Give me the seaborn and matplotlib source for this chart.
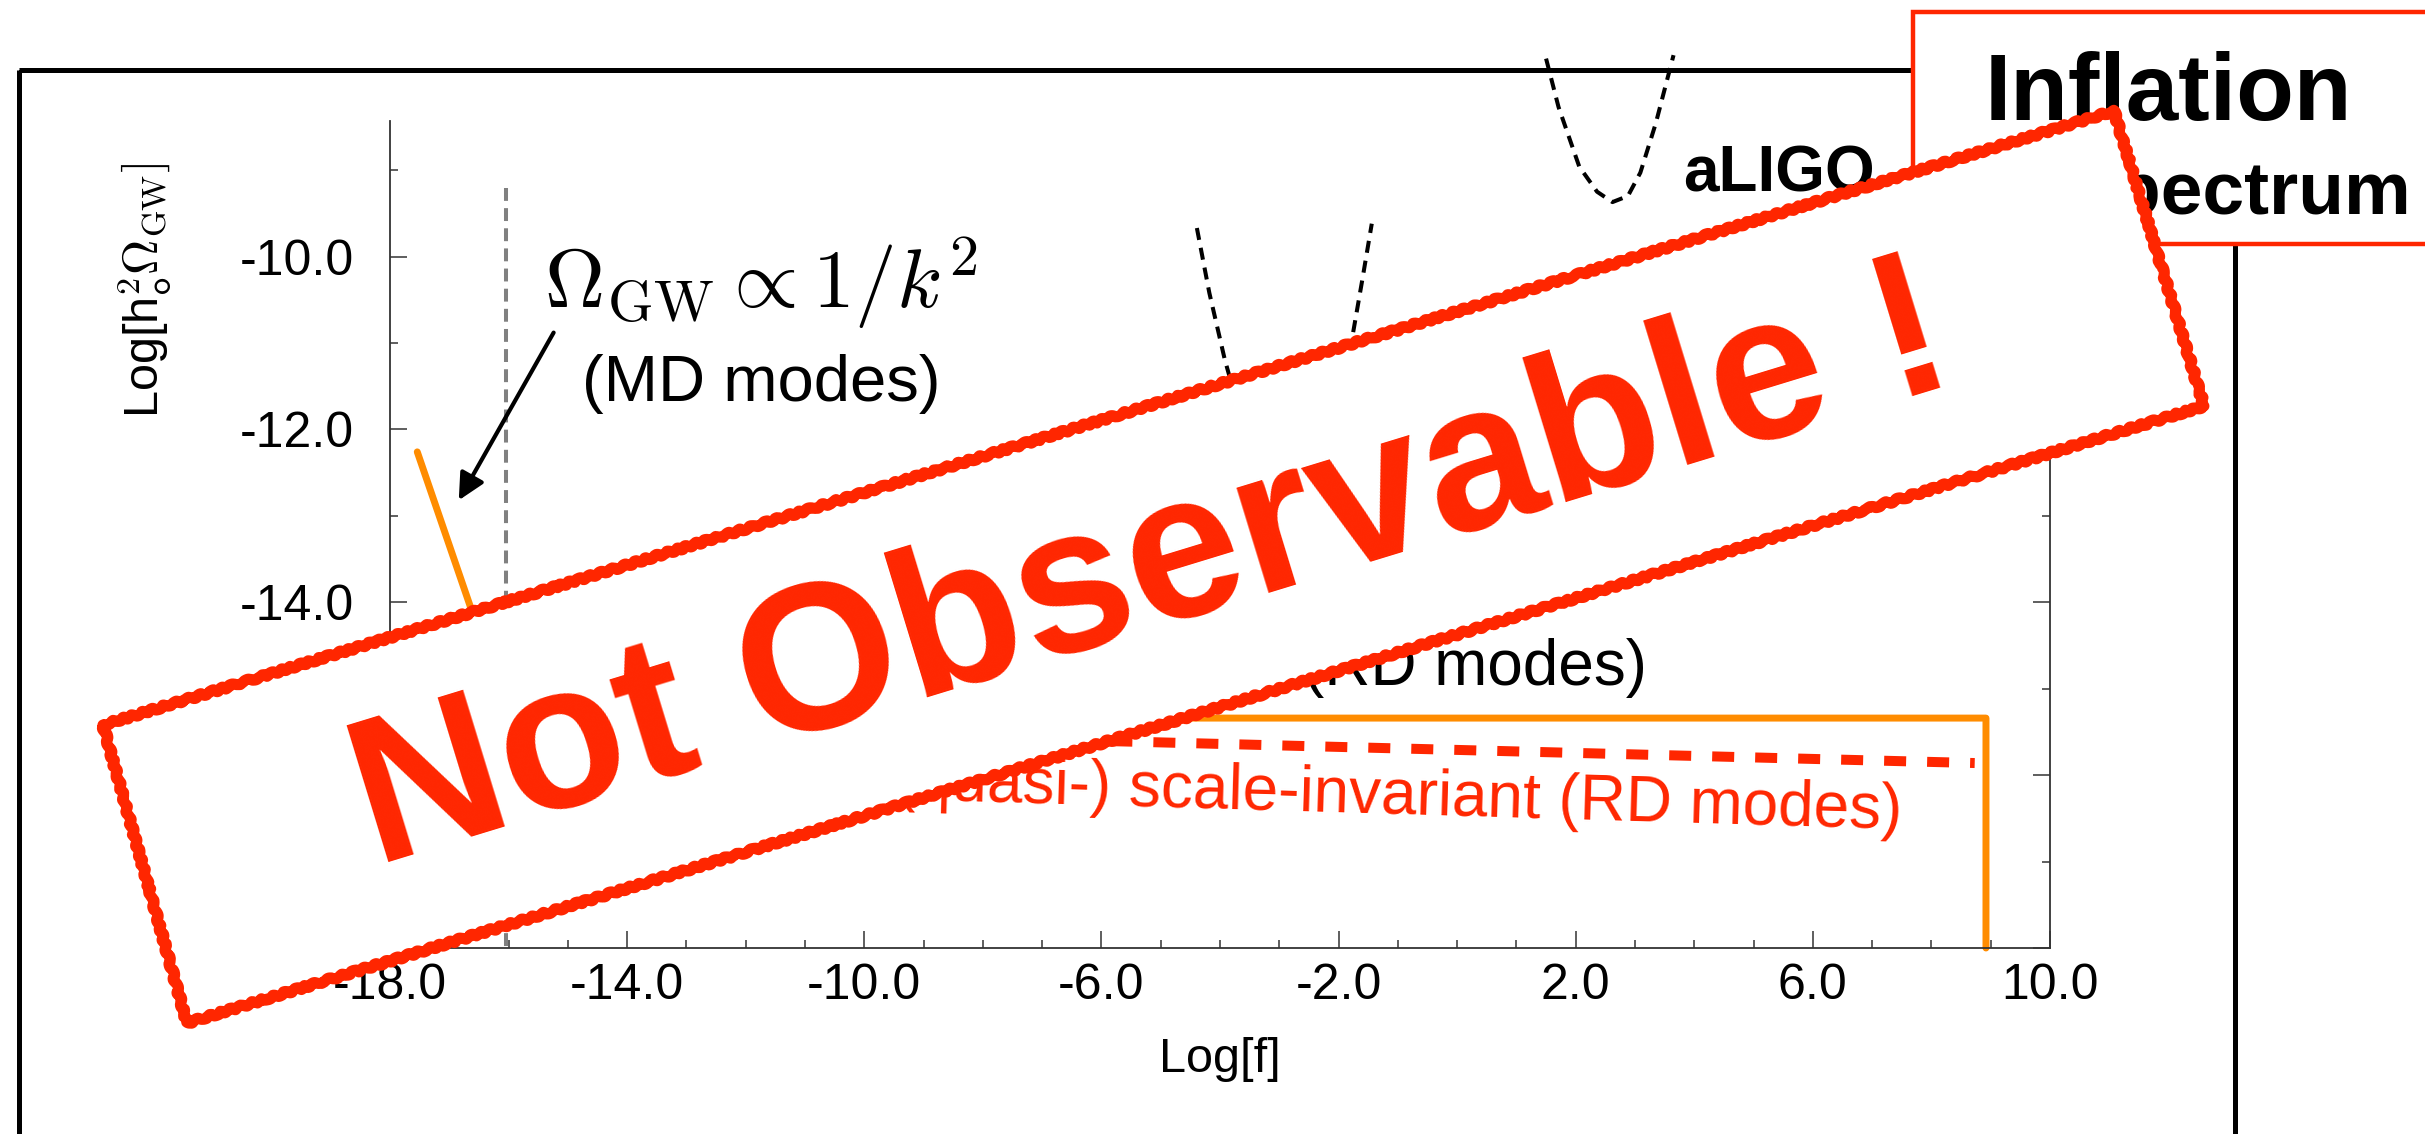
import matplotlib
matplotlib.use('Agg')
import matplotlib.pyplot as plt
import matplotlib.patches as mpatches
from matplotlib.ticker import FixedLocator, MultipleLocator
import seaborn as sns
import pandas as pd

# ── data (log10 units) ────────────────────────────────────────
x_major = [-18.0, -14.0, -10.0, -6.0, -2.0, 2.0, 6.0, 10.0]
y_major = [-18.0, -16.0, -14.0, -12.0, -10.0]

# inflationary GW spectrum (orange): 1/k^2 for MD modes, flat for RD modes, cut-off
spec_x = [-17.54, -16.0, 8.92, 8.92]
spec_y = [-12.26, -15.34, -15.34, -18.0]

# (quasi-) scale-invariant RD modes (red dashed)
quasi_x = [-16.0, 8.73]
quasi_y = [-15.43, -15.86]

# aLIGO sensitivity curve
aligo_x = [1.50, 1.71, 2.06, 2.36, 2.62, 2.88, 3.09, 3.35, 3.65]
aligo_y = [-7.71, -8.27, -8.96, -9.25, -9.37, -9.30, -9.03, -8.46, -7.67]

# second sensitivity curve (lower part hidden by the stamp)
lisa_x = [-4.39, -4.18, -3.92, -3.81, -3.55, -3.20, -2.80, -2.40, -2.05, -1.77, -1.60, -1.44]
lisa_y = [-9.67, -10.42, -11.19, -11.46, -12.00, -12.45, -12.60, -12.30, -11.60, -10.94, -10.27, -9.62]

# matter-radiation equality
eq_x = [-16.04, -16.04]
eq_y = [-9.21, -18.0]

RED = '#FF2600'
ORANGE = '#FF8C00'

sns.set_theme(style='white')
plt.rcParams['font.family'] = ['Liberation Sans', 'DejaVu Sans']
plt.rcParams['mathtext.fontset'] = 'cm'
for k in ['text.color', 'axes.labelcolor', 'xtick.color', 'ytick.color']:
    plt.rcParams[k] = 'black'

W, H = 2425, 1134
fig = plt.figure(figsize=(W / 100, H / 100), dpi=100)

# background slide frame
ax_bg = fig.add_axes([0, 0, 1, 1], zorder=0)
ax_bg.set_xlim(0, W)
ax_bg.set_ylim(H, 0)
ax_bg.axis('off')
ax_bg.add_patch(mpatches.Rectangle((19, 70), 2216, 1200, fill=False,
                                   edgecolor='black', lw=3.6, clip_on=False))

# main plot
ax = fig.add_axes([390 / W, 1 - 948 / H, 1660 / W, 827.5 / H], zorder=1)
ax.set_facecolor('none')

def line(xs, ys, **kw):
    df = pd.DataFrame({'x': xs, 'y': ys})
    sns.lineplot(data=df, x='x', y='y', sort=False, estimator=None, ax=ax, **kw)

line(eq_x, eq_y, color='#808080', lw=2.9, linestyle=(0, (3.2, 1.8)))
line(aligo_x, aligo_y, color='black', lw=2.9, linestyle=(0, (3.0, 2.0)), clip_on=False)
line(lisa_x, lisa_y, color='black', lw=2.9, linestyle=(0, (3.0, 2.0)), clip_on=False)
line(spec_x, spec_y, color=ORANGE, lw=5.0, solid_capstyle='round', clip_on=False)
line(quasi_x, quasi_y, color=RED, lw=7.2, linestyle=(0, (2.2, 2.1)))

ax.set_xlim(-18, 10)
ax.set_ylim(-18, -8.426)
ax.xaxis.set_major_locator(FixedLocator(x_major))
ax.xaxis.set_minor_locator(MultipleLocator(1))
ax.yaxis.set_major_locator(FixedLocator(y_major))
ax.yaxis.set_minor_locator(MultipleLocator(1))
ax.set_xticklabels([f'{v:.1f}' for v in x_major])
ax.set_yticklabels([f'{v:.1f}' for v in y_major])
ax.tick_params(which='both', direction='in', right=True, left=True, bottom=True,
               color='#333333', width=1.1)
ax.tick_params(which='major', length=12, labelsize=36)
ax.tick_params(which='minor', length=6)
ax.tick_params(axis='x', which='major', pad=11)
ax.tick_params(axis='y', which='major', pad=26)
ax.spines['top'].set_visible(False)
for s in ['left', 'bottom', 'right']:
    ax.spines[s].set_color('#333333')
    ax.spines[s].set_linewidth(1.3)

ax.set_xlabel('Log[f]', fontsize=35, labelpad=20)
ax.set_ylabel(r'Log[h$_{\mathsf{o}}^{\mathsf{2}}\Omega_{\rm GW}]$', fontsize=35)
ax.yaxis.set_label_coords(-0.131, 0.795)

# annotations
ax.text(-11.74, -10.59, r'$\Omega_{\rm GW} \propto 1/k^2$', fontsize=60,
        ha='center', va='baseline')
ax.text(-11.74, -11.67, '(MD modes)', fontsize=47, ha='center', va='baseline')
ax.annotate('', xy=(-16.84, -12.82), xytext=(-15.24, -10.88),
            arrowprops=dict(arrowstyle='-|>', color='black', lw=3,
                            mutation_scale=40, shrinkA=0, shrinkB=0))
ax.text(3.82, -9.25, 'aLIGO', fontsize=46, fontweight='bold', ha='left',
        va='baseline', clip_on=False)
ax.text(3.20, -14.96, '(RD modes)', fontsize=46, ha='right', va='baseline')
ax.text(7.50, -16.62, '(quasi-) scale-invariant (RD modes)', fontsize=46, color=RED,
        ha='right', va='baseline', rotation=-1.7, rotation_mode='anchor')

# overlay: title box and stamp
ax_top = fig.add_axes([0, 0, 1, 1], zorder=3)
ax_top.set_xlim(0, W)
ax_top.set_ylim(H, 0)
ax_top.axis('off')
ax_top.patch.set_alpha(0)

ax_top.add_patch(mpatches.Rectangle((1913, 12), 700, 232, facecolor='white',
                                    edgecolor=RED, lw=3.2, zorder=2))
ax_top.text(2168, 120, 'Inflation', fontsize=68, fontweight='bold',
            ha='center', va='baseline', zorder=3)
ax_top.text(2411, 214, 'GW spectrum', fontsize=54, fontweight='bold',
            ha='right', va='baseline', zorder=3)

# rubber stamp
corners = [(103, 725), (2114, 111), (2204, 406), (187, 1023)]
stamp = mpatches.Polygon(corners, closed=True, facecolor='white', edgecolor=RED,
                         lw=8.0, joinstyle='round', zorder=5)
stamp.set_sketch_params(scale=1.5, length=14, randomness=3)
ax_top.add_patch(stamp)
for sc, ln in [(3.0, 6), (4.0, 9)]:
    fuzz = mpatches.Polygon(corners, closed=True, fill=False, edgecolor=RED,
                            lw=1.4, joinstyle='round', zorder=5)
    fuzz.set_sketch_params(scale=sc, length=ln, randomness=3)
    ax_top.add_patch(fuzz)
ax_top.text(1152, 572, 'Not Observable !', fontsize=149, fontweight='bold',
            color=RED, ha='center', va='center', rotation=17,
            rotation_mode='anchor', zorder=6)

fig.savefig('out.png', dpi=100)
